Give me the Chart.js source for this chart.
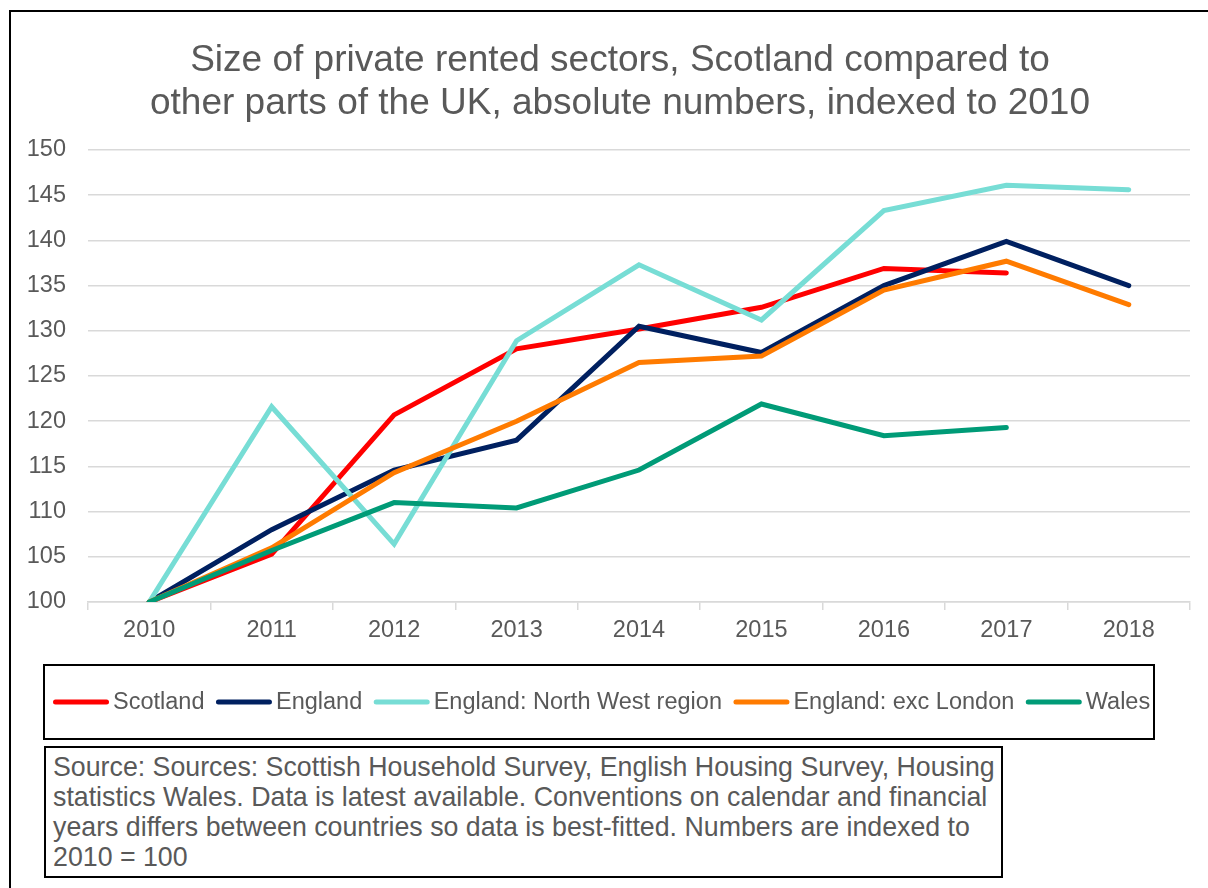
<!DOCTYPE html>
<html>
<head>
<meta charset="utf-8">
<script src="https://cdn.jsdelivr.net/npm/chart.js@4.4.1/dist/chart.umd.min.js"></script>
<style>
  html, body { margin: 0; padding: 0; background: #fff; }
  body { width: 1208px; height: 888px; position: relative; overflow: hidden;
         font-family: 'Liberation Sans', Arial, sans-serif; }
  #frame { position: absolute; left: 9px; top: 10px; width: 1400px; height: 1000px;
           border: 2px solid #000; box-sizing: border-box; }
  #wrap { position: absolute; left: 0; top: 0; width: 1208px; height: 888px; }
  #title { position: absolute; left: 0; top: 36.5px; width: 1240px; text-align: center;
           font-size: 37px; line-height: 43px; color: #595959; white-space: nowrap; }
  #source { position: absolute; left: 44px; top: 746px; width: 959px; height: 132px;
            box-sizing: border-box; border: 2px solid #000; background: #fff;
            padding: 5px 0 0 7px; color: #595959; font-size: 26.75px; line-height: 29.9px;
            white-space: nowrap; }
</style>
</head>
<body>
<div id="frame"></div>
<div id="wrap"><canvas id="c" width="1208" height="888"></canvas></div>
<div id="title">Size of private rented sectors, Scotland compared to<br>other parts of the UK, absolute numbers, indexed to 2010</div>
<div id="source">Source: Sources: Scottish Household Survey, English Housing Survey, Housing<br>statistics Wales. Data is latest available. Conventions on calendar and financial<br>years differs between countries so data is best-fitted. Numbers are indexed to<br>2010 = 100</div>

<script>
// Years on the category axis
const years = ['2010', '2011', '2012', '2013', '2014', '2015', '2016', '2017', '2018'];

// Private rented sector size, indexed to 2010 = 100
const scotland      = [100, 105.3, 120.7, 128.0, 130.2, 132.6, 136.9, 136.4, null];
const england       = [100, 108.0, 114.6, 117.9, 130.5, 127.6, 135.0, 139.9, 135.0];
const englandNW     = [100, 121.6, 106.4, 128.9, 137.3, 131.2, 143.3, 146.1, 145.6];
const englandExcLon = [100, 106.0, 114.3, 120.0, 126.5, 127.2, 134.5, 137.7, 132.9];
const wales         = [100, 105.7, 111.0, 110.4, 114.6, 121.9, 118.4, 119.3, null];

// Value axis range
const yMin = 100;
const yMax = 150;
const yStep = 5;

const seriesNames = ['Scotland', 'England', 'England: North West region', 'England: exc London', 'Wales'];
const seriesColors = ['#ff0000', '#002060', '#77ddd5', '#ff7b00', '#009b77'];
const seriesValues = [scotland, england, englandNW, englandExcLon, wales];

const textGrey = '#595959';
const fontFamily = "'Liberation Sans', Arial, sans-serif";

// Boxed legend drawn beneath the axis
const boxedLegend = {
  id: 'boxedLegend',
  afterDraw(chart) {
    const ctx = chart.ctx;
    const box = { x: 44, y: 665, w: 1110, h: 74 };
    ctx.save();
    ctx.lineWidth = 2;
    ctx.strokeStyle = '#000';
    ctx.strokeRect(box.x, box.y, box.w, box.h);

    ctx.font = '23.5px ' + fontFamily;
    ctx.textBaseline = 'middle';
    ctx.textAlign = 'left';
    const midY = box.y + box.h / 2;
    const sample = 56, textGap = 4, itemGap = 11.5;
    let x = 53;
    chart.data.datasets.forEach(ds => {
      ctx.strokeStyle = ds.borderColor;
      ctx.lineWidth = 5;
      ctx.lineCap = 'round';
      ctx.beginPath();
      ctx.moveTo(x + 2.5, midY);
      ctx.lineTo(x + sample - 2.5, midY);
      ctx.stroke();
      x += sample + textGap;
      ctx.fillStyle = textGrey;
      ctx.fillText(ds.label, x, midY + 1);
      x += ctx.measureText(ds.label).width + itemGap;
    });
    ctx.restore();
  }
};

new Chart(document.getElementById('c'), {
  type: 'line',
  data: {
    labels: years,
    datasets: seriesNames.map((name, i) => ({
      label: name,
      data: seriesValues[i],
      borderColor: seriesColors[i],
      backgroundColor: seriesColors[i],
      borderWidth: 5,
      borderCapStyle: 'round',
      borderJoinStyle: 'miter',
      pointRadius: 0,
      pointHoverRadius: 0,
      tension: 0,
      fill: false,
      order: seriesNames.length - i
    }))
  },
  options: {
    responsive: false,
    animation: false,
    devicePixelRatio: 1,
    layout: { padding: { left: 10, right: 18, top: 150, bottom: 246 } },
    plugins: {
      legend: { display: false },
      title: { display: false },
      tooltip: { enabled: false }
    },
    scales: {
      x: {
        type: 'category',
        offset: true,
        border: { display: true, color: '#d9d9d9', width: 1.5 },
        grid: {
          offset: true,
          drawOnChartArea: false,
          drawTicks: true,
          tickLength: 8,
          color: '#d9d9d9',
          lineWidth: 1.5
        },
        ticks: {
          color: textGrey,
          font: { family: fontFamily, size: 23.5 },
          padding: 6,
          maxRotation: 0,
          autoSkip: false
        },
        afterFit(scale) { scale.height = 40; }
      },
      y: {
        min: yMin,
        max: yMax,
        border: { display: false },
        grid: {
          color: '#d9d9d9',
          lineWidth: 1.5,
          drawTicks: false
        },
        ticks: {
          stepSize: yStep,
          color: textGrey,
          font: { family: fontFamily, size: 23.5 },
          padding: 22
        },
        afterFit(scale) { scale.width = 78; }
      }
    }
  },
  plugins: [boxedLegend]
});
</script>
</body>
</html>
